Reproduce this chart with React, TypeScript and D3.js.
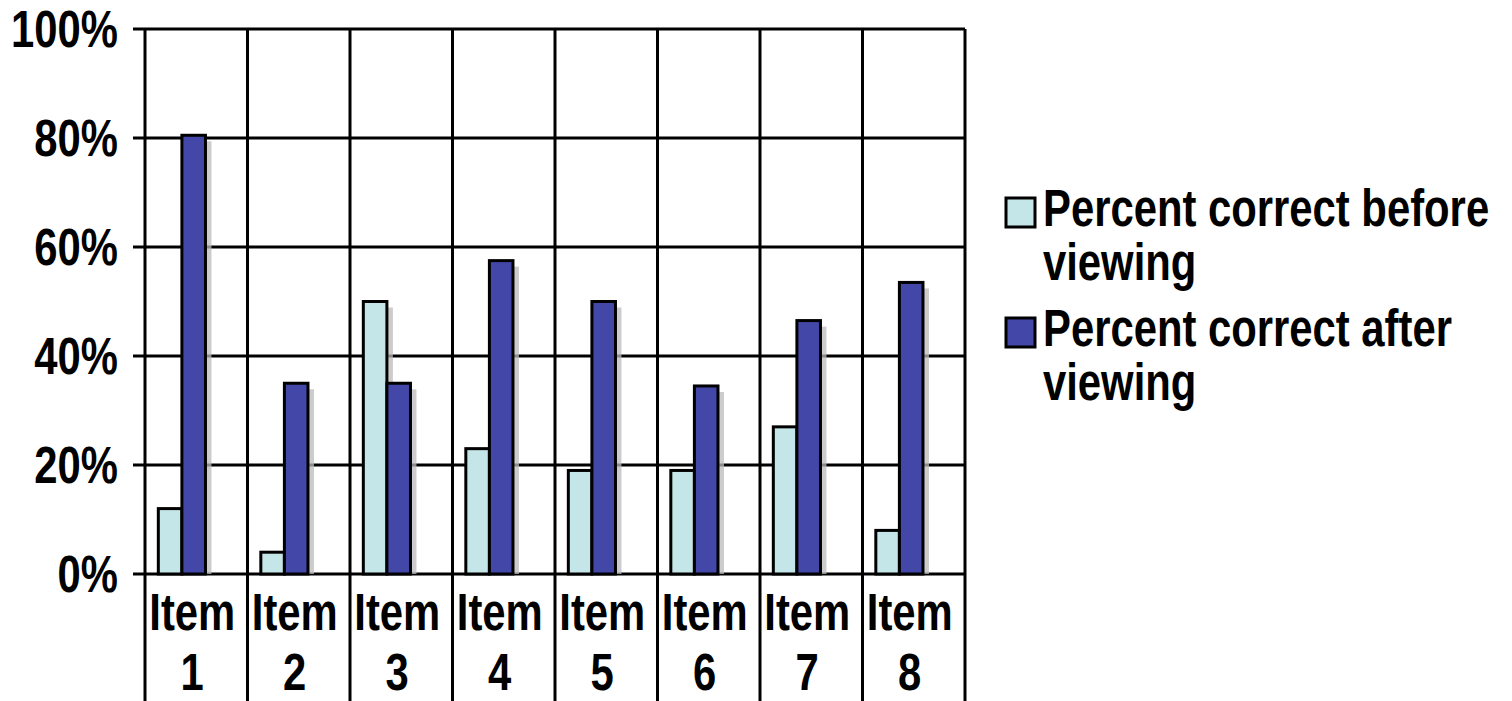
import React from 'react'
import * as d3 from 'd3'

const categories = ['1', '2', '3', '4', '5', '6', '7', '8']
const seriesNames = ['Percent correct before viewing', 'Percent correct after viewing']
const beforeValues = [0.12, 0.04, 0.50, 0.23, 0.19, 0.19, 0.27, 0.08]
const afterValues = [0.805, 0.35, 0.35, 0.575, 0.50, 0.345, 0.465, 0.535]
const yTicks = [0, 0.2, 0.4, 0.6, 0.8, 1]

const colors = ['#c5e6e8', '#4348a8']
const font = '"Liberation Sans", Arial, sans-serif'

// no narrow face installed, so squeeze the regular bold one
function NarrowText ({ x, y, anchor = 'start', children }: { x: number, y: number, anchor?: string, children: React.ReactNode }) {
  return (
    <text transform={`translate(${x},${y}) scale(0.82,1)`} textAnchor={anchor}
      fontFamily={font} fontWeight="bold" fontSize={51} fill="#000">
      {children}
    </text>
  )
}

export default function App () {
  const width = 1512
  const height = 701
  const plot = { left: 145, right: 965, top: 29, bottom: 574 }

  const x = d3.scaleBand().domain(categories).range([plot.left, plot.right])
  const bw = x.bandwidth()
  const inner = d3.scaleBand().domain(['0', '1']).range([bw * 0.13, bw * 0.59])
  const y = d3.scaleLinear().domain([0, 1]).range([plot.bottom, plot.top])
  const fmt = d3.format('.0%')
  const series = [beforeValues, afterValues]
  const shadow = 6

  return (
    <svg width={width} height={height} style={{ position: 'absolute', left: 0, top: 0, display: 'block', background: '#fff' }}>
      {/* horizontal grid + ticks */}
      {yTicks.map(t => (
        <g key={t}>
          <line x1={plot.left - 12} x2={plot.right} y1={y(t)} y2={y(t)} stroke="#000" strokeWidth={3} />
          <NarrowText x={118} y={y(t) + 18} anchor="end">{fmt(t)}</NarrowText>
        </g>
      ))}
      {/* vertical separators */}
      {[...categories.map(c => x(c) as number), plot.right].map((vx, i) => (
        <line key={i} x1={vx} x2={vx} y1={plot.top} y2={height} stroke="#000" strokeWidth={3} />
      ))}
      {/* shadows */}
      {categories.map((c, i) => series.map((vals, s) => {
        const bx = (x(c) as number) + (inner(String(s)) as number)
        const top = y(vals[i])
        return (
          <rect key={`sh${c}${s}`} x={bx + shadow} y={top + shadow} width={inner.bandwidth()}
            height={Math.max(0, plot.bottom - top - shadow)} fill="#bbbbbb" opacity={0.75} />
        )
      }))}
      {/* bars */}
      {categories.map((c, i) => series.map((vals, s) => {
        const bx = (x(c) as number) + (inner(String(s)) as number)
        const top = y(vals[i])
        return (
          <rect key={`b${c}${s}`} x={bx} y={top} width={inner.bandwidth()} height={plot.bottom - top}
            fill={colors[s]} stroke="#000" strokeWidth={3} />
        )
      }))}
      {/* category labels */}
      {categories.map(c => {
        const cx = (x(c) as number) + bw / 2 - 4
        return (
          <g key={`l${c}`}>
            <NarrowText x={cx} y={630} anchor="middle">Item</NarrowText>
            <NarrowText x={cx} y={690} anchor="middle">{c}</NarrowText>
          </g>
        )
      })}
      {/* legend */}
      {seriesNames.map((name, s) => {
        const words = name.split(' ')
        const ly = 198 + s * 120
        return (
          <g key={name}>
            <rect x={1006} y={ly} width={29} height={29} fill={colors[s]} stroke="#000" strokeWidth={3} />
            <NarrowText x={1043} y={ly + 28}>{words.slice(0, -1).join(' ')}</NarrowText>
            <NarrowText x={1043} y={ly + 82}>{words[words.length - 1]}</NarrowText>
          </g>
        )
      })}
    </svg>
  )
}
